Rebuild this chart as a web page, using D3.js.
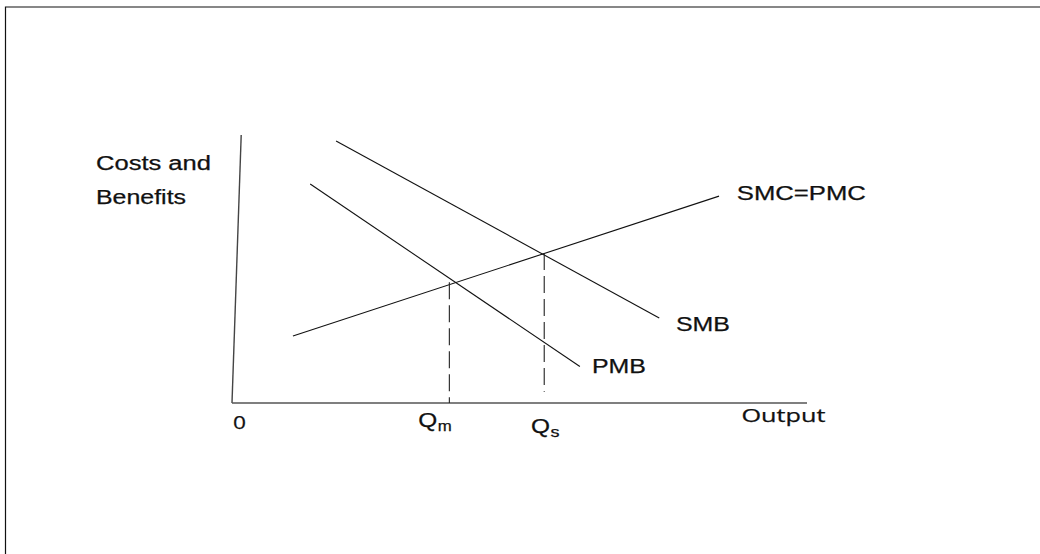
<!DOCTYPE html>
<html>
<head>
<meta charset="utf-8">
<script src="https://cdn.jsdelivr.net/npm/d3@7"></script>
<style>
  html, body { margin: 0; padding: 0; background: #fff; }
  svg { display: block; }
  text { stroke: #111; stroke-width: 0.25px; }
</style>
</head>
<body>
<svg id="chart" width="1040" height="554"></svg>
<script>
// ---- data (in chart units: output 0..100, costs/benefits 0..100) ----
const yAxisLine = [[0, 0], [1.6, 100]];
const smcLine = [[10.6, 25.0], [84.7, 77.2]];
const smbLine = [[18.1, 97.8], [74.3, 31.7]];
const pmbLine = [[13.6, 81.7], [60.5, 13.6]];
const qmDrop = [[37.8, 45.1], [37.8, 0]];
const qsDrop = [[54.3, 56.0], [54.3, 4.2]];
const curveLabels = ["SMC=PMC", "SMB", "PMB"];
const curveLabelPos = [[87.8, 76.0], [77.2, 27.2], [62.6, 11.2]];
const yTitle = ["Costs and", "Benefits"];
const xTitle = "Output";
const originLabel = "0";
const qLabels = [{base: "Q", sub: "m", v: 32.4}, {base: "Q", sub: "s", v: 52.0}];

const svg = d3.select("#chart");
const x = d3.scaleLinear().domain([0, 100]).range([232, 807]);
const y = d3.scaleLinear().domain([0, 100]).range([403, 135]);
const line = d3.line().x(d => x(d[0])).y(d => y(d[1]));

// frame (top and left rules)
svg.append("path").attr("d", "M5.5,554 V7 H1040")
  .attr("fill", "none").attr("stroke", "#111").attr("stroke-width", 1.2);

// axes
svg.append("path").attr("d", line(yAxisLine))
  .attr("fill", "none").attr("stroke", "#444").attr("stroke-width", 1.4);
svg.append("path").attr("d", line([[0, 0], [100, 0]]))
  .attr("fill", "none").attr("stroke", "#555").attr("stroke-width", 1.4);

// curves
[smcLine, smbLine, pmbLine].forEach(l => {
  svg.append("path").attr("d", line(l))
    .attr("fill", "none").attr("stroke", "#111").attr("stroke-width", 1.1);
});

// dashed drop lines
[qmDrop, qsDrop].forEach(l => {
  svg.append("path").attr("d", line(l))
    .attr("fill", "none").attr("stroke", "#222").attr("stroke-width", 1.1)
    .attr("stroke-dasharray", "17,6");
});

const sans = "Liberation Sans, Arial, sans-serif";

// curve labels
const curveLabelWidths = [129, 54, 54];
curveLabels.forEach((t, i) => {
  svg.append("text").text(t)
    .attr("x", x(curveLabelPos[i][0])).attr("y", y(curveLabelPos[i][1]) + 0.5)
    .attr("font-family", sans).attr("font-size", 19.5).attr("fill", "#111")
    .attr("textLength", curveLabelWidths[i]).attr("lengthAdjust", "spacingAndGlyphs");
});

// y title
const yTitleWidths = [115, 90];
yTitle.forEach((t, i) => {
  svg.append("text").text(t)
    .attr("x", 96).attr("y", 169.5 + i * 34)
    .attr("font-family", sans).attr("font-size", 20).attr("fill", "#111")
    .attr("textLength", yTitleWidths[i]).attr("lengthAdjust", "spacingAndGlyphs");
});

// x title
svg.append("text").text(xTitle)
  .attr("x", 741.5).attr("y", 422)
  .attr("font-family", "Open Sans, sans-serif").attr("font-size", 18.5).attr("fill", "#111")
  .attr("textLength", 84).attr("lengthAdjust", "spacingAndGlyphs");

// origin
svg.append("text").text(originLabel)
  .attr("x", x(0) + 1).attr("y", 429)
  .attr("font-family", "Open Sans, sans-serif").attr("font-size", 19).attr("fill", "#111")
  .attr("stroke-width", 0.6)
  .attr("textLength", 13).attr("lengthAdjust", "spacingAndGlyphs");

// Q labels with subscripts
const qBaseY = [426.5, 433];
qLabels.forEach((q, i) => {
  const tx = svg.append("text")
    .attr("font-family", sans).attr("font-size", 20).attr("fill", "#111");
  tx.append("tspan").text(q.base)
    .attr("x", x(q.v)).attr("y", qBaseY[i])
    .attr("textLength", 19).attr("lengthAdjust", "spacingAndGlyphs");
  tx.append("tspan").text(q.sub)
    .attr("x", x(q.v) + 19.5).attr("y", qBaseY[i] + 4)
    .attr("font-size", 14)
    .attr("textLength", q.sub === "m" ? 14 : 9).attr("lengthAdjust", "spacingAndGlyphs");
});
</script>
</body>
</html>
